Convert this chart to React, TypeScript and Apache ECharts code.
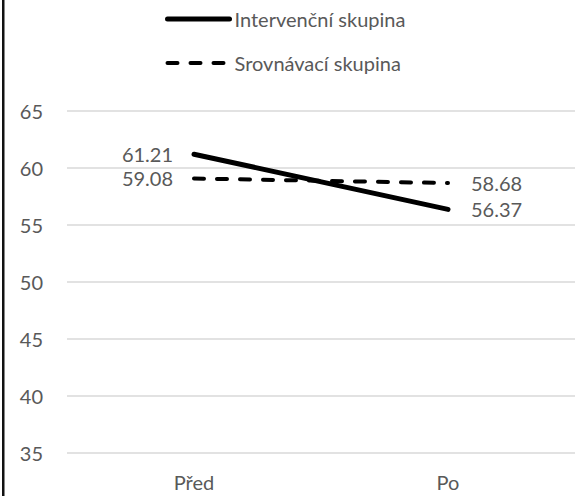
import React, { useEffect, useRef } from "react";
import * as echarts from "echarts";

const categories = ["Před", "Po"];
const seriesNames = ["Intervenční skupina", "Srovnávací skupina"];
const interventionValues = [61.21, 56.37];
const comparisonValues = [59.08, 58.68];
const yTicks = { min: 35, max: 65, interval: 5 };

const FONT = "Lato";
const GREY = "#595959";
const FS = 20;

function buildData(values: number[]) {
  return values.map((v, i) => ({
    value: v,
    label: {
      show: true,
      position: i === 0 ? "left" : "right",
      distance: i === 0 ? 21 : 23,
      formatter: v.toFixed(2),
      color: GREY,
      fontFamily: FONT,
      fontSize: FS,
    },
  }));
}

export default function App() {
  const ref = useRef<HTMLDivElement>(null);
  useEffect(() => {
    if (!ref.current) return;
    const chart = echarts.init(ref.current, undefined, { renderer: "svg" });
    chart.setOption({
      animation: false,
      backgroundColor: "#ffffff",
      graphic: [
        {
          type: "rect",
          shape: { x: 2, y: 0, width: 2.5, height: 496 },
          style: { fill: "#111111" },
          silent: true,
        },
      ],
      legend: {
        orient: "vertical",
        left: 160,
        top: 4,
        itemWidth: 62,
        itemHeight: 14,
        itemGap: 24,
        itemStyle: { opacity: 0 },
        textStyle: { color: GREY, fontFamily: FONT, fontSize: FS },
        data: [
          { name: seriesNames[0], lineStyle: { width: 5 } },
          { name: seriesNames[1], lineStyle: { width: 4 } },
        ],
      },
      grid: { left: 67, right: -4, top: 111, bottom: 43, containLabel: false },
      xAxis: {
        type: "category",
        data: categories,
        boundaryGap: true,
        axisLine: { show: false },
        axisTick: { show: false },
        axisLabel: { color: GREY, fontFamily: FONT, fontSize: FS, margin: 19 },
      },
      yAxis: {
        type: "value",
        min: yTicks.min,
        max: yTicks.max,
        interval: yTicks.interval,
        axisLine: { show: false },
        axisTick: { show: false },
        axisLabel: { color: GREY, fontFamily: FONT, fontSize: FS, margin: 24 },
        splitLine: { lineStyle: { color: "#d9d9d9", width: 1.5 } },
      },
      series: [
        {
          name: seriesNames[0],
          type: "line",
          data: buildData(interventionValues),
          symbol: "circle",
          symbolSize: 0,
          showSymbol: true,
          color: "#000000",
          lineStyle: { color: "#000000", width: 5, cap: "round" },
        },
        {
          name: seriesNames[1],
          type: "line",
          data: buildData(comparisonValues),
          symbol: "circle",
          symbolSize: 0,
          showSymbol: true,
          color: "#000000",
          lineStyle: { color: "#000000", width: 4, type: [10, 13], cap: "round" },
        },
      ],
    });
    return () => chart.dispose();
  }, []);
  return (
    <div
      ref={ref}
      style={{ position: "fixed", left: 0, top: 0, width: 575, height: 496 }}
    />
  );
}
